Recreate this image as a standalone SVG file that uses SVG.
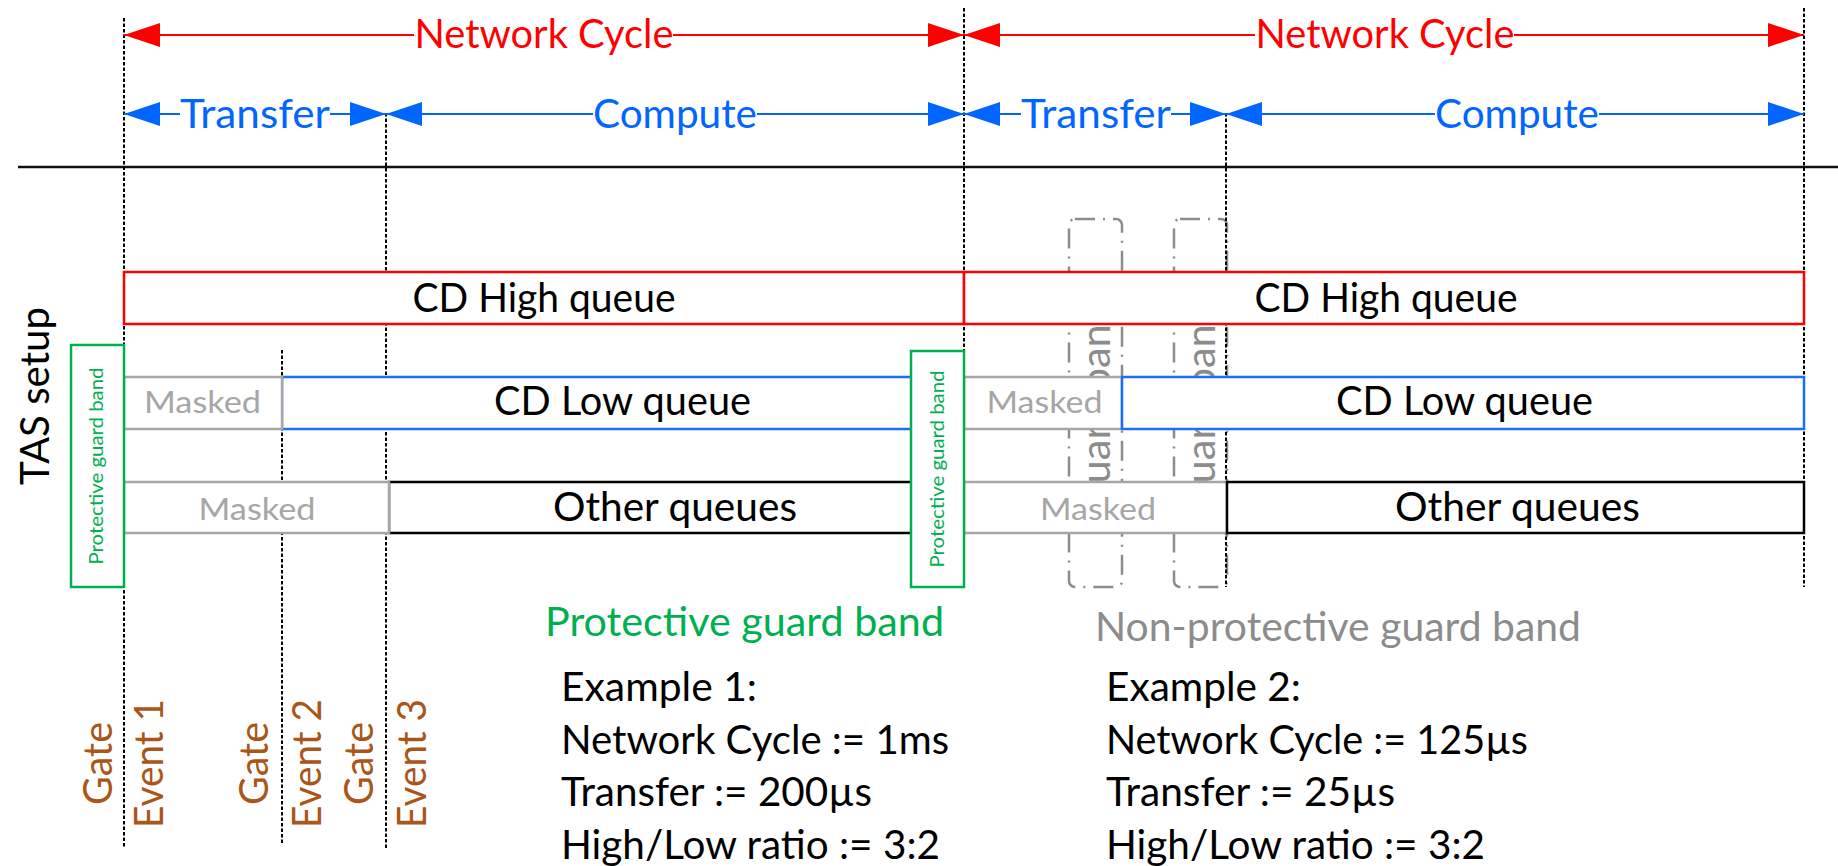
<svg xmlns="http://www.w3.org/2000/svg" width="1838" height="866" viewBox="0 0 1838 866">
<defs>
<style>
text { font-family: Lato, "Liberation Sans", sans-serif; font-size: 40px; fill: #000; }
.red { fill: #FF0000; }
.blue { fill: #0066FF; }
.green { fill: #00B050; }
.gray { fill: #A6A6A6; font-size: 31px; }
.dgray { fill: #8C8C8C; }
.brown { fill: #A9561A; }
.small { font-size: 20px; }
.vdash { stroke: #000; stroke-width: 2; stroke-dasharray: 3.5 2; fill: none; }
.ar-r { stroke: #FF0000; stroke-width: 2; fill: none; marker-end: url(#mr); }
.ar-b { stroke: #0066FF; stroke-width: 2; fill: none; marker-end: url(#mb); }
.q { fill: #fff; stroke-width: 2.5; }
.qr { stroke: #FF0000; }
.qb { stroke: #1A6DFF; }
.qk { stroke: #000; }
.qm { stroke: #A6A6A6; }
.pgb { fill: #fff; stroke: #00B050; stroke-width: 2.5; }
.npgb { fill: none; stroke: #8C8C8C; stroke-width: 2.5; stroke-dasharray: 20 8 2 8; }
</style>
<marker id="mr" markerUnits="userSpaceOnUse" markerWidth="36" markerHeight="24" refX="36" refY="12" orient="auto"><path d="M0,0 L36,12 L0,24 Z" fill="#FF0000"/></marker>
<marker id="mb" markerUnits="userSpaceOnUse" markerWidth="36" markerHeight="24" refX="36" refY="12" orient="auto"><path d="M0,0 L36,12 L0,24 Z" fill="#0066FF"/></marker>
</defs>

<rect x="0" y="0" width="1838" height="866" fill="#fff"/>

<g id="timeline-rule">
<line x1="18" y1="167" x2="1838" y2="167" stroke="#111" stroke-width="2.5"/>
</g>

<!-- Non-protective guard bands (behind queues) -->
<g id="nonprot-guard-band-1">
<rect class="npgb" x="1069" y="219" width="53" height="368" rx="6"/>
<text class="dgray" transform="translate(1110,403) rotate(-90)" text-anchor="middle" textLength="204" lengthAdjust="spacingAndGlyphs">guard band</text>
</g>
<g id="nonprot-guard-band-2">
<rect class="npgb" x="1174" y="219" width="53" height="368" rx="6"/>
<text class="dgray" transform="translate(1215,403) rotate(-90)" text-anchor="middle" textLength="204" lengthAdjust="spacingAndGlyphs">guard band</text>
</g>

<g id="connectors">
<line class="vdash" x1="124" y1="18" x2="124" y2="848"/>
<line class="vdash" x1="282" y1="350" x2="282" y2="845"/>
<line class="vdash" x1="386" y1="113" x2="386" y2="849"/>
<line class="vdash" x1="964" y1="8" x2="964" y2="587"/>
<line class="vdash" x1="1226" y1="113" x2="1226" y2="587"/>
<line class="vdash" x1="1804" y1="8" x2="1804" y2="587"/>
<line class="ar-r" x1="414" y1="35" x2="124" y2="35"/>
<line class="ar-r" x1="673" y1="35" x2="964" y2="35"/>
<line class="ar-r" x1="1255" y1="35" x2="964" y2="35"/>
<line class="ar-r" x1="1514" y1="35" x2="1804" y2="35"/>
<line class="ar-b" x1="180" y1="114" x2="124" y2="114"/>
<line class="ar-b" x1="330" y1="114" x2="386" y2="114"/>
<line class="ar-b" x1="593" y1="114" x2="386" y2="114"/>
<line class="ar-b" x1="757" y1="114" x2="964" y2="114"/>
<line class="ar-b" x1="1021" y1="114" x2="964" y2="114"/>
<line class="ar-b" x1="1171" y1="114" x2="1226" y2="114"/>
<line class="ar-b" x1="1435" y1="114" x2="1226" y2="114"/>
<line class="ar-b" x1="1599" y1="114" x2="1804" y2="114"/>
</g>

<g id="label-network-cycle-1"><text class="red" x="544" y="48" text-anchor="middle" textLength="259" lengthAdjust="spacingAndGlyphs">Network Cycle</text></g>
<g id="label-network-cycle-2"><text class="red" x="1385" y="48" text-anchor="middle" textLength="259" lengthAdjust="spacingAndGlyphs">Network Cycle</text></g>
<g id="label-transfer-1"><text class="blue" x="255" y="128" text-anchor="middle" textLength="150" lengthAdjust="spacingAndGlyphs">Transfer</text></g>
<g id="label-compute-1"><text class="blue" x="675" y="128" text-anchor="middle" textLength="164" lengthAdjust="spacingAndGlyphs">Compute</text></g>
<g id="label-transfer-2"><text class="blue" x="1096" y="128" text-anchor="middle" textLength="150" lengthAdjust="spacingAndGlyphs">Transfer</text></g>
<g id="label-compute-2"><text class="blue" x="1517" y="128" text-anchor="middle" textLength="164" lengthAdjust="spacingAndGlyphs">Compute</text></g>

<!-- Row 1: CD High queue -->
<g id="cd-high-1">
<rect class="q qr" x="124" y="272" width="840" height="52"/>
<text x="544" y="312" text-anchor="middle" textLength="263" lengthAdjust="spacingAndGlyphs">CD High queue</text>
</g>
<g id="cd-high-2">
<rect class="q qr" x="964" y="272" width="840" height="52"/>
<text x="1386" y="312" text-anchor="middle" textLength="263" lengthAdjust="spacingAndGlyphs">CD High queue</text>
</g>

<!-- Row 2 -->
<g id="cd-low-1">
<rect class="q qb" x="282" y="377" width="682" height="52"/>
<text x="622.5" y="415" text-anchor="middle" textLength="257" lengthAdjust="spacingAndGlyphs">CD Low queue</text>
</g>
<g id="masked-low-1">
<rect class="q qm" x="124" y="377" width="158" height="52"/>
<text class="gray" x="202.5" y="413" text-anchor="middle" textLength="117" lengthAdjust="spacingAndGlyphs">Masked</text>
</g>
<g id="masked-low-2">
<rect class="q qm" x="964" y="377" width="158" height="52"/>
<text class="gray" x="1044.5" y="413" text-anchor="middle" textLength="116" lengthAdjust="spacingAndGlyphs">Masked</text>
</g>
<g id="cd-low-2">
<rect class="q qb" x="1122" y="377" width="682" height="52"/>
<text x="1464.5" y="415" text-anchor="middle" textLength="257" lengthAdjust="spacingAndGlyphs">CD Low queue</text>
</g>

<!-- Row 3 -->
<g id="other-1">
<rect class="q qk" x="389" y="482" width="575" height="51"/>
<text x="675" y="521" text-anchor="middle" textLength="244" lengthAdjust="spacingAndGlyphs">Other queues</text>
</g>
<g id="masked-other-1">
<rect class="q qm" x="124" y="482" width="265" height="51"/>
<text class="gray" x="257" y="520" text-anchor="middle" textLength="117" lengthAdjust="spacingAndGlyphs">Masked</text>
</g>
<g id="masked-other-2">
<rect class="q qm" x="964" y="482" width="263" height="51"/>
<text class="gray" x="1098" y="520" text-anchor="middle" textLength="116" lengthAdjust="spacingAndGlyphs">Masked</text>
</g>
<g id="other-2">
<rect class="q qk" x="1227" y="482" width="577" height="51"/>
<text x="1517.5" y="521" text-anchor="middle" textLength="245" lengthAdjust="spacingAndGlyphs">Other queues</text>
</g>

<!-- Protective guard bands -->
<g id="prot-guard-band-1">
<rect class="pgb" x="71" y="345" width="53" height="242"/>
<text class="green small" transform="translate(103,466) rotate(-90)" text-anchor="middle" textLength="197" lengthAdjust="spacingAndGlyphs">Protective guard band</text>
</g>
<g id="prot-guard-band-2">
<rect class="pgb" x="911" y="351" width="53" height="236"/>
<text class="green small" transform="translate(944,469) rotate(-90)" text-anchor="middle" textLength="197" lengthAdjust="spacingAndGlyphs">Protective guard band</text>
</g>

<g id="tas-setup"><text transform="translate(49,396) rotate(-90)" text-anchor="middle" textLength="178" lengthAdjust="spacingAndGlyphs">TAS setup</text></g>

<g id="gate-event-1">
<text class="brown" transform="translate(112,763.5) rotate(-90)" text-anchor="middle" textLength="83" lengthAdjust="spacingAndGlyphs">Gate</text>
<text class="brown" transform="translate(163,763.5) rotate(-90)" text-anchor="middle" textLength="129" lengthAdjust="spacingAndGlyphs">Event 1</text>
</g>
<g id="gate-event-2">
<text class="brown" transform="translate(268,763.5) rotate(-90)" text-anchor="middle" textLength="83" lengthAdjust="spacingAndGlyphs">Gate</text>
<text class="brown" transform="translate(321,763.5) rotate(-90)" text-anchor="middle" textLength="129" lengthAdjust="spacingAndGlyphs">Event 2</text>
</g>
<g id="gate-event-3">
<text class="brown" transform="translate(373,763.5) rotate(-90)" text-anchor="middle" textLength="83" lengthAdjust="spacingAndGlyphs">Gate</text>
<text class="brown" transform="translate(426,763.5) rotate(-90)" text-anchor="middle" textLength="129" lengthAdjust="spacingAndGlyphs">Event 3</text>
</g>

<g id="legend-protective"><text class="green" x="545" y="636" textLength="399" lengthAdjust="spacingAndGlyphs">Protective guard band</text></g>
<g id="legend-nonprotective"><text class="dgray" x="1095" y="641" textLength="486" lengthAdjust="spacingAndGlyphs">Non-protective guard band</text></g>

<g id="example-1">
<text x="561" y="701" textLength="196" lengthAdjust="spacingAndGlyphs">Example 1:</text>
<text x="561" y="754" textLength="388" lengthAdjust="spacingAndGlyphs">Network Cycle := 1ms</text>
<text x="561" y="806" textLength="311" lengthAdjust="spacingAndGlyphs">Transfer := 200µs</text>
<text x="561" y="859" textLength="379" lengthAdjust="spacingAndGlyphs">High/Low ratio := 3:2</text>
</g>
<g id="example-2">
<text x="1106" y="701" textLength="195" lengthAdjust="spacingAndGlyphs">Example 2:</text>
<text x="1106" y="754" textLength="422" lengthAdjust="spacingAndGlyphs">Network Cycle := 125µs</text>
<text x="1106" y="806" textLength="289" lengthAdjust="spacingAndGlyphs">Transfer := 25µs</text>
<text x="1106" y="859" textLength="379" lengthAdjust="spacingAndGlyphs">High/Low ratio := 3:2</text>
</g>
</svg>
